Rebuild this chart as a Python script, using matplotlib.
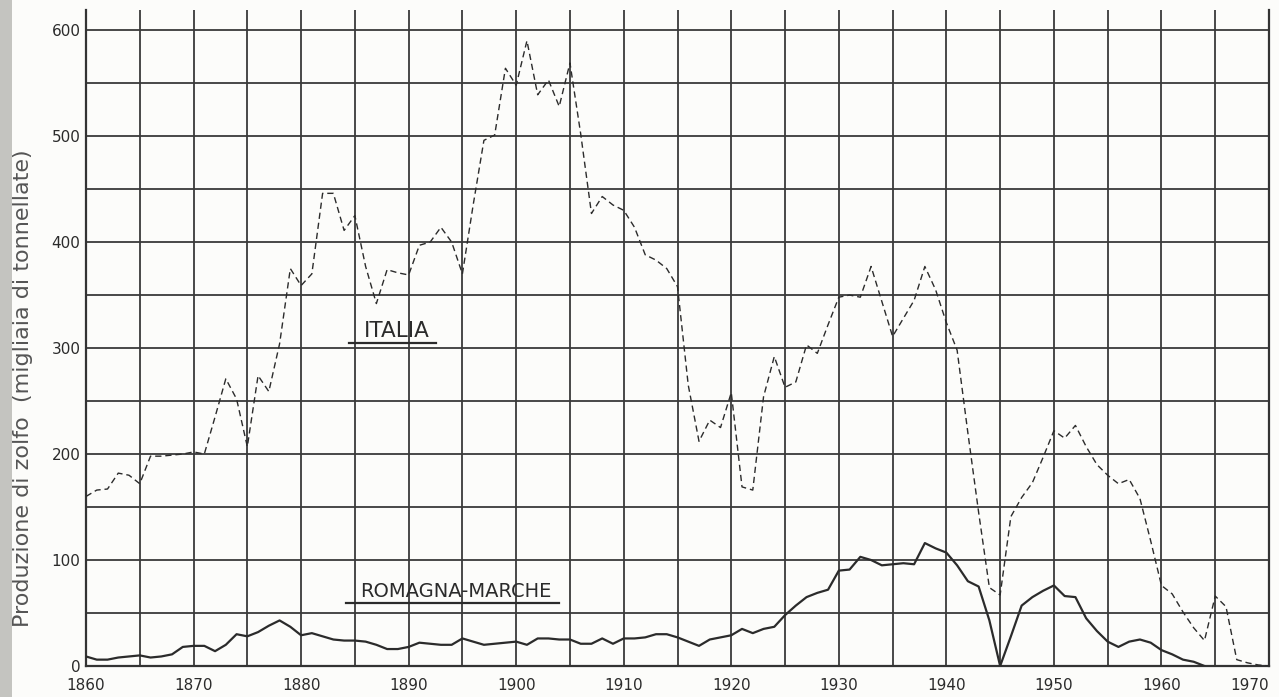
import matplotlib
matplotlib.use("Agg")
import matplotlib.pyplot as plt
from matplotlib.lines import Line2D
from matplotlib.patches import Rectangle

# production of sulphur, thousands of tonnes
years_italia = list(range(1860, 1971))
italia = [160, 166, 167, 182, 180, 172, 198, 198, 199, 200,
          202, 200, 235, 271, 252, 207, 274, 259, 304, 375,
          359, 370, 446, 446, 411, 425, 377, 342, 374, 371,
          369, 397, 400, 414, 400, 370, 435, 496, 501, 564,
          548, 590, 539, 553, 528, 569, 502, 427, 443, 435,
          430, 414, 388, 383, 375, 358, 265, 212, 232, 225,
          258, 169, 166, 254, 292, 263, 268, 303, 295, 322,
          348, 350, 348, 377, 344, 311, 328, 345, 377, 355,
          324, 298, 220, 145, 74, 67, 141, 159, 173, 197,
          222, 215, 227, 207, 190, 180, 172, 176, 158, 118,
          76, 68, 51, 36, 24, 66, 56, 6, 3, 1,
          0]

years_romagna = list(range(1860, 1965))
romagna = [9, 6, 6, 8, 9, 10, 8, 9, 11, 18,
           19, 19, 14, 20, 30, 28, 32, 38, 43, 37,
           29, 31, 28, 25, 24, 24, 23, 20, 16, 16,
           18, 22, 21, 20, 20, 26, 23, 20, 21, 22,
           23, 20, 26, 26, 25, 25, 21, 21, 26, 21,
           26, 26, 27, 30, 30, 27, 23, 19, 25, 27,
           29, 35, 31, 35, 37, 48, 57, 65, 69, 72,
           90, 91, 103, 100, 95, 96, 97, 96, 116, 111,
           107, 95, 80, 75, 43, 0, 28, 57, 65, 71,
           76, 66, 65, 45, 33, 23, 18, 23, 25, 22,
           15, 11, 6, 4, 0]

x_major = list(range(1860, 1971, 10))
x_minor = list(range(1865, 1970, 10))
y_major = list(range(0, 601, 100))
y_minor = list(range(50, 600, 100))

ink = "#2b2b2b"
paper = "#fcfcfa"

fig = plt.figure(figsize=(12.79, 6.97), dpi=100, facecolor=paper)
fig.patches.append(Rectangle((0, 0), 12 / 1279, 1, transform=fig.transFigure,
                             facecolor="#c4c4c0", edgecolor="none", zorder=0))
ax = fig.add_axes([86 / 1279, 31 / 697, 1183 / 1279, 656 / 697])
ax.set_facecolor(paper)

ax.plot(years_italia, italia, color=ink, lw=1.0, dashes=(4.5, 2.8), zorder=3)
ax.plot(years_romagna, romagna, color=ink, lw=1.6, zorder=3)

ax.set_xlim(1860, 1970)
ax.set_ylim(0, 619)
ax.set_xticks(x_major)
ax.set_xticks(x_minor, minor=True)
ax.set_yticks(y_major)
ax.set_yticks(y_minor, minor=True)
ax.set_xticklabels([str(v) for v in x_major])
ax.set_yticklabels([str(v) for v in y_major])
ax.grid(True, which="both", color="#3a3a3a", lw=1.3, zorder=1)
ax.tick_params(which="both", length=0, colors=ink, labelsize=11)
ax.tick_params(axis="x", pad=9)
ax.tick_params(axis="y", pad=4)
# last year label sits just inside the right edge
ax.get_xticklabels()[-1].set_horizontalalignment("right")
ax.spines["top"].set_visible(False)
for s in ("left", "right", "bottom"):
    ax.spines[s].set_color("#333333")
    ax.spines[s].set_linewidth(1.6)

fig.text(23 / 1279, 1 - 388 / 697, "Produzione di zolfo  (migliaia di tonnellate)",
         rotation=90, ha="center", va="center", fontsize=16, color="#555555")

labels = [
    ax.text(1885.8, 310, "ITALIA", fontsize=15.5, color=ink, ha="left", va="baseline"),
    ax.text(1885.5, 65, "ROMAGNA-MARCHE", fontsize=14, color=ink, ha="left", va="baseline"),
]

# underline each label from its drawn extent
fig.canvas.draw()
renderer = fig.canvas.get_renderer()
for t in labels:
    bb = t.get_window_extent(renderer)
    ypos = bb.y0 - 2
    fig.lines.append(Line2D([bb.x0 - 14, bb.x1 + 7], [ypos, ypos], transform=None,
                            color=ink, lw=1.6))

fig.savefig("out.png", dpi=100, facecolor=paper)
